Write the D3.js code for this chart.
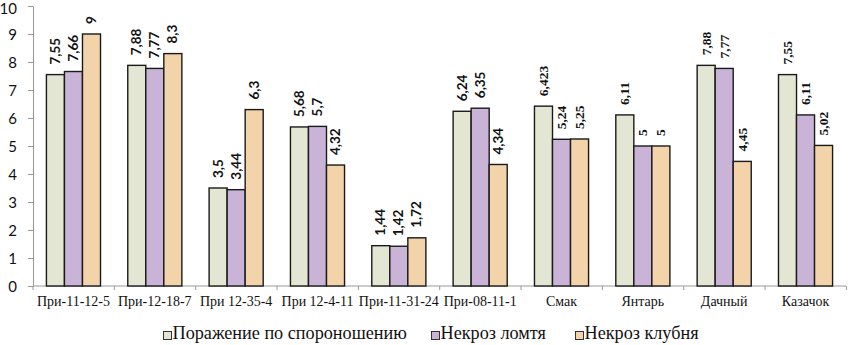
<!DOCTYPE html>
<html>
<head>
<meta charset="utf-8">
<script src="https://cdn.jsdelivr.net/npm/d3@7/dist/d3.min.js"></script>
<style>
  body { margin: 0; background: #fff; }
  svg { display: block; }
</style>
</head>
<body>
<svg id="chart" width="848" height="345"></svg>
<script>
const categories = ["При-11-12-5", "При-12-18-7", "При 12-35-4", "При 12-4-11", "При-11-31-24",
                    "При-08-11-1", "Смак", "Янтарь", "Дачный", "Казачок"];
const seriesNames = ["Поражение по спороношению", "Некроз ломтя", "Некроз клубня"];
const sporulation = [7.55, 7.88, 3.5, 5.68, 1.44, 6.24, 6.423, 6.11, 7.88, 7.55];
const sliceNecrosis = [7.66, 7.77, 3.44, 5.7, 1.42, 6.35, 5.24, 5, 7.77, 6.11];
const tuberNecrosis = [9, 8.3, 6.3, 4.32, 1.72, 4.34, 5.25, 5, 4.45, 5.02];
const yTicks = [0, 1, 2, 3, 4, 5, 6, 7, 8, 9, 10];

const colors = ["#e2e6d3", "#c9b4d7", "#f3d3aa"];
const series = [sporulation, sliceNecrosis, tuberNecrosis];

const SERIF = "Liberation Serif";
const SANS = "Lato";

let svg = d3.select("#chart");
let margin = {left: 33, right: 846, top: 6, bottom: 286};

let x = d3.scaleBand()
          .domain(categories)
          .range([margin.left, margin.right])
          .paddingInner(0.335)
          .paddingOuter(0.165);

let xInner = d3.scaleBand()
               .domain(d3.range(series.length))
               .range([0, x.bandwidth()]);

let y = d3.scaleLinear()
          .domain([0, 10])
          .range([margin.bottom, margin.top]);

// y axis
let yAxis = svg.append("g")
               .attr("transform", `translate(${margin.left},0)`)
               .call(d3.axisLeft(y).tickValues(yTicks).tickSize(5).tickSizeOuter(0));
yAxis.attr("font-family", SANS);
yAxis.select(".domain").attr("stroke", "#999");
yAxis.selectAll(".tick line").attr("stroke", "#999");
yAxis.selectAll(".tick text")
     .attr("font-family", SANS)
     .style("font-family", SANS)
     .attr("font-size", 15)
     .attr("fill", "#111")
     .attr("x", -16)
     .attr("dy", d => d === 10 ? "0.5em" : "0.34em");

// x axis line with ticks between groups
svg.append("line")
   .attr("x1", margin.left).attr("x2", margin.right)
   .attr("y1", margin.bottom).attr("y2", margin.bottom)
   .attr("stroke", "#999");

let step = x.step();
svg.selectAll(".xtick")
   .data(d3.range(categories.length + 1))
   .enter()
   .append("line")
   .attr("x1", i => margin.left + i * step)
   .attr("x2", i => margin.left + i * step)
   .attr("y1", margin.bottom)
   .attr("y2", margin.bottom + 4)
   .attr("stroke", "#999");

svg.selectAll(".xlabel")
   .data(categories)
   .enter()
   .append("text")
   .attr("x", d => x(d) + x.bandwidth() / 2)
   .attr("y", 306)
   .attr("text-anchor", "middle")
   .attr("font-family", SERIF)
   .style("font-family", SERIF)
   .attr("font-size", 14)
   .attr("fill", "#111")
   .text(d => d);

// bars and value labels
series.forEach((vals, s) => {
  let g = svg.append("g");
  g.selectAll("rect")
   .data(vals)
   .enter()
   .append("rect")
   .attr("x", (d, i) => x(categories[i]) + xInner(s))
   .attr("y", d => y(d))
   .attr("width", xInner.bandwidth())
   .attr("height", d => y(0) - y(d))
   .attr("fill", colors[s])
   .attr("stroke", "#1a1a1a")
   .attr("stroke-width", 1.4);

  g.selectAll("text")
   .data(vals)
   .enter()
   .append("text")
   .attr("transform", (d, i) => {
     let cx = x(categories[i]) + xInner(s) + xInner.bandwidth() / 2 + 4.5;
     return `translate(${cx},${y(d) - 10}) rotate(-90)`;
   })
   .attr("text-anchor", "start")
   .attr("font-family", (d, i) => i < 6 ? SANS : SERIF)
   .style("font-family", (d, i) => i < 6 ? SANS : SERIF)
   .attr("font-weight", "bold")
   .attr("font-size", 13.5)
   .attr("fill", "#111")
   .text(d => String(d).replace(".", ","));
});

// legend
let legendX = [163, 431, 575];
let legend = svg.selectAll(".legend")
                .data(seriesNames)
                .enter()
                .append("g")
                .attr("transform", (d, i) => `translate(${legendX[i]},339)`);
legend.append("rect")
      .attr("x", 0.5).attr("y", -7.5)
      .attr("width", 8).attr("height", 8)
      .attr("fill", (d, i) => colors[i])
      .attr("stroke", "#333")
      .attr("stroke-width", 1);
legend.append("text")
      .attr("x", 9.5)
      .attr("y", 0)
      .attr("font-family", SERIF)
      .style("font-family", SERIF)
      .attr("font-size", 18.2)
      .attr("fill", "#111")
      .text(d => d);
</script>
</body>
</html>
